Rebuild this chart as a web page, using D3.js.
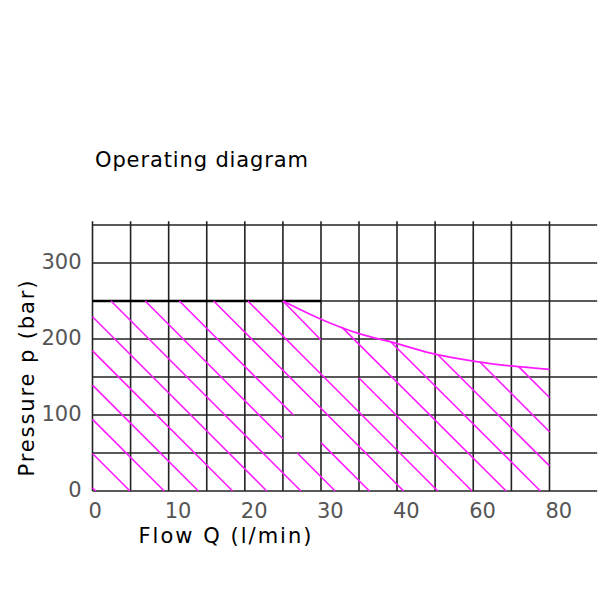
<!DOCTYPE html>
<html>
<head>
<meta charset="utf-8">
<script src="https://cdn.jsdelivr.net/npm/d3@7"></script>
<style>
  body { margin: 0; background: #fff; }
  text { font-family: "DejaVu Sans", sans-serif; }
</style>
</head>
<body>
<svg width="600" height="600"></svg>
<script>
// grid lines (flow in l/min, pressure in bar)
const gridFlow = [0, 5, 10, 15, 20, 25, 30, 35, 40, 50, 60, 70, 80];
const gridPressure = [0, 50, 100, 150, 200, 250, 300, 350];
const flowTicks = [0, 10, 20, 30, 40, 60, 80];
const pressureTicks = [0, 100, 200, 300];

// max pressure line and the pressure limit curve
const maxLineFlow = [0, 30];
const maxLinePressure = 250;
const limitFlow = [25, 30, 35, 40, 50, 60, 70, 80];
const limitPressure = [250, 226, 207, 194, 180, 171, 164.5, 160];

// hatch strokes: [q1, p1, q2, p2]
const hatchSegments = [
  [0, 4.3, 0.43, 0],
  [0, 49.3, 4.92, 0],
  [0, 94.3, 9.41, 0],
  [0, 139.3, 13.9, 0],
  [0, 184.3, 18.39, 0],
  [0, 229.3, 22.88, 0],
  [2.43, 250, 27.37, 0],
  [6.92, 250, 25, 68.8],
  [26.88, 50, 31.87, 0],
  [11.41, 250, 26.38, 100],
  [30, 63.7, 36.37, 0],
  [15.9, 250, 41.73, 0],
  [20.39, 250, 50.7, 0],
  [25, 250, 30, 198.7],
  [35, 148.7, 59.67, 0],
  [32.7, 216, 68.64, 0],
  [39.2, 196, 77.61, 0],
  [50.7, 179.3, 80, 33],
  [61.75, 169.8, 80, 78],
  [71.9, 163.6, 80, 123]
];

const svg = d3.select("svg");

// the flow axis is stretched: 5 l/min per cell up to 40, then 10 per cell
const x = d3.scaleLinear()
  .domain([0, 30, 40, 80])
  .range([92.5, 321, 397, 549.5]);
const y = d3.scaleLinear()
  .domain([0, 350])
  .range([491, 225]);

// grid
svg.append("g")
  .selectAll("line")
  .data(gridPressure)
  .join("line")
  .attr("x1", x(0))
  .attr("x2", x(92.5))
  .attr("y1", d => y(d))
  .attr("y2", d => y(d))
  .attr("stroke", "#222")
  .attr("stroke-width", 1.6);

svg.append("g")
  .selectAll("line")
  .data(gridFlow)
  .join("line")
  .attr("x1", d => x(d))
  .attr("x2", d => x(d))
  .attr("y1", y(0))
  .attr("y2", y(355))
  .attr("stroke", "#222")
  .attr("stroke-width", 1.6);

// max pressure line
svg.append("line")
  .attr("x1", x(maxLineFlow[0]))
  .attr("x2", x(maxLineFlow[1]))
  .attr("y1", y(maxLinePressure))
  .attr("y2", y(maxLinePressure))
  .attr("stroke", "#000")
  .attr("stroke-width", 2.4);

// hatching
const magenta = "#ff1aff";
svg.append("g")
  .selectAll("line")
  .data(hatchSegments)
  .join("line")
  .attr("x1", d => x(d[0]))
  .attr("y1", d => y(d[1]))
  .attr("x2", d => x(d[2]))
  .attr("y2", d => y(d[3]))
  .attr("stroke", magenta)
  .attr("stroke-width", 1.6);

// limit curve
const limitLine = d3.line()
  .x(d => x(d[0]))
  .y(d => y(d[1]))
  .curve(d3.curveMonotoneX);

svg.append("path")
  .datum(limitFlow.map((q, i) => [q, limitPressure[i]]))
  .attr("d", limitLine)
  .attr("fill", "none")
  .attr("stroke", magenta)
  .attr("stroke-width", 1.8);

// axes (labels only, no tick marks)
const xAxis = svg.append("g")
  .attr("transform", `translate(0,${y(0)})`)
  .call(d3.axisBottom(x).tickValues(flowTicks).tickSize(0).tickFormat(d3.format("d")));
xAxis.select(".domain").remove();
xAxis.selectAll("text")
  .attr("y", 27)
  .attr("dy", null)
  .attr("dx", -4.5)
  .attr("text-anchor", "start")
  .attr("font-size", 21)
  .attr("font-family", "DejaVu Sans, sans-serif")
  .attr("fill", "#555");

const yAxis = svg.append("g")
  .attr("transform", `translate(${x(0)},0)`)
  .call(d3.axisLeft(y).tickValues(pressureTicks).tickSize(0).tickFormat(d3.format("d")));
yAxis.select(".domain").remove();
yAxis.selectAll("text")
  .attr("x", -11)
  .attr("dy", null)
  .attr("y", 5)
  .attr("font-size", 21)
  .attr("font-family", "DejaVu Sans, sans-serif")
  .attr("fill", "#555");

// titles
svg.append("text")
  .attr("x", 95)
  .attr("y", 167)
  .attr("font-size", 21)
  .attr("textLength", 213)
  .attr("lengthAdjust", "spacing")
  .text("Operating diagram");

svg.append("text")
  .attr("x", 138.5)
  .attr("y", 543)
  .attr("font-size", 21)
  .attr("textLength", 173)
  .attr("lengthAdjust", "spacing")
  .text("Flow  Q  (l/min)");

svg.append("text")
  .attr("transform", "translate(33.5,476.5) rotate(-90)")
  .attr("font-size", 21)
  .attr("textLength", 196)
  .attr("lengthAdjust", "spacing")
  .text("Pressure  p  (bar)");
</script>
</body>
</html>
